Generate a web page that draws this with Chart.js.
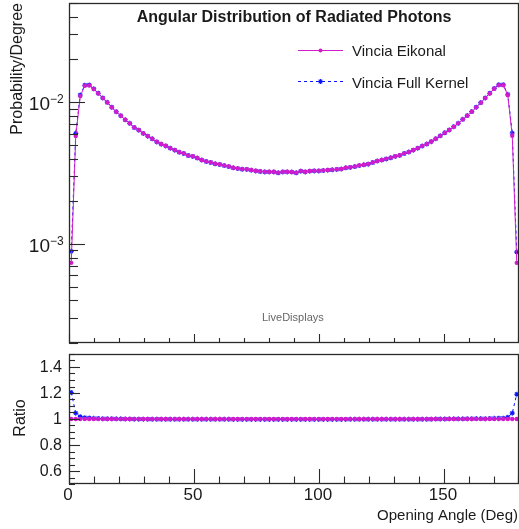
<!DOCTYPE html>
<html>
<head>
<meta charset="utf-8">
<script src="https://cdn.jsdelivr.net/npm/chart.js@4.4.1/dist/chart.umd.min.js"></script>
<style>
  html, body { margin: 0; padding: 0; background: #fff; }
  #wrap { position: relative; width: 519px; height: 529px; }
  canvas { position: absolute; left: 0; }
  #top { top: 0; }
  #ratio { top: 350px; }
</style>
</head>
<body>
<div id="wrap">
  <canvas id="top" width="519" height="350"></canvas>
  <canvas id="ratio" width="519" height="179"></canvas>
</div>
<script>
/* ── DATA ─────────────────────────────────────────────────── */
// 100 bins of 1.8 degrees between 0 and 180
const BIN_WIDTH = 1.8;

const eikonal = [
  0.000735, 0.00576, 0.01102, 0.01303, 0.01312, 0.01235, 0.01151, 0.01067, 0.00995, 0.00918,
  0.00855, 0.00801, 0.00750, 0.00708, 0.00663, 0.00635, 0.00602, 0.00576, 0.00552, 0.00525,
  0.00506, 0.00492, 0.00474, 0.00459, 0.00444, 0.00435, 0.00421, 0.00415, 0.00404, 0.00391,
  0.00382, 0.00376, 0.00368, 0.00364, 0.00358, 0.00352, 0.00345, 0.00341, 0.00337, 0.00336,
  0.00332, 0.00328, 0.00325, 0.00323, 0.00323, 0.00323, 0.00318, 0.00323, 0.00323, 0.00322,
  0.00318, 0.00327, 0.00323, 0.00327, 0.00328, 0.00328, 0.00330, 0.00332, 0.00334, 0.00336,
  0.00338, 0.00345, 0.00347, 0.00352, 0.00358, 0.00362, 0.00366, 0.00376, 0.00385, 0.00391,
  0.00398, 0.00406, 0.00415, 0.00422, 0.00435, 0.00445, 0.00459, 0.00474, 0.00491, 0.00507,
  0.00527, 0.00552, 0.00578, 0.00608, 0.00635, 0.00670, 0.00708, 0.00755, 0.00801, 0.00855,
  0.00918, 0.00989, 0.01067, 0.01151, 0.01241, 0.01317, 0.01317, 0.01120, 0.00579, 0.000735
];

const fullKernel = [
  0.000885, 0.00602, 0.01122, 0.01316, 0.01322, 0.01241, 0.01156, 0.01070, 0.00997, 0.00920,
  0.00856, 0.00802, 0.00750, 0.00708, 0.00662, 0.00634, 0.00601, 0.00575, 0.00551, 0.00524,
  0.00505, 0.00491, 0.00473, 0.00458, 0.00443, 0.00434, 0.00420, 0.00414, 0.00403, 0.00390,
  0.00381, 0.00375, 0.00367, 0.00363, 0.00357, 0.00351, 0.00344, 0.00340, 0.00336, 0.00335,
  0.00331, 0.00327, 0.00324, 0.00322, 0.00322, 0.00322, 0.00317, 0.00322, 0.00322, 0.00321,
  0.00317, 0.00326, 0.00322, 0.00326, 0.00327, 0.00327, 0.00329, 0.00331, 0.00333, 0.00335,
  0.00337, 0.00344, 0.00346, 0.00351, 0.00357, 0.00361, 0.00365, 0.00375, 0.00384, 0.00390,
  0.00397, 0.00405, 0.00414, 0.00421, 0.00434, 0.00444, 0.00458, 0.00473, 0.00490, 0.00506,
  0.00526, 0.00552, 0.00578, 0.00608, 0.00636, 0.00671, 0.00709, 0.00756, 0.00803, 0.00857,
  0.00921, 0.00992, 0.01070, 0.01156, 0.01247, 0.01325, 0.01325, 0.01135, 0.00605, 0.000875
];

const seriesLabels = ['Vincia Eikonal', 'Vincia Full Kernel'];
const xTickLabels = [0, 50, 100, 150];
const ratioTickLabels = [0.6, 0.8, 1, 1.2, 1.4];
const logTickLabels = [-3, -2];

/* ── STYLE ────────────────────────────────────────────────── */
const FONT = '"Liberation Sans", Arial, Helvetica, sans-serif';
const MAGENTA = '#d21ccc';
const BLUE = '#0a14ff';
const INK = '#1a1a1a';
const FRAME = '#2a2a2a';

const binCenters = eikonal.map((_, i) => (i + 0.5) * BIN_WIDTH);
const toXY = arr => arr.map((v, i) => ({ x: binCenters[i], y: v }));
const ratioEik = eikonal.map((v, i) => eikonal[i] / v);
const ratioFull = fullKernel.map((v, i) => v / eikonal[i]);

function datasetsFor(eikData, fullData) {
  return [
    {
      label: seriesLabels[0], data: eikData,
      borderColor: MAGENTA, backgroundColor: MAGENTA, borderWidth: 1,
      pointStyle: 'circle', pointRadius: 2.2, pointBorderWidth: 0,
      tension: 0, order: 0
    },
    {
      label: seriesLabels[1], data: fullData,
      borderColor: BLUE, backgroundColor: BLUE, borderWidth: 1, borderDash: [3, 3],
      pointStyle: 'star', pointRadius: 2.5, pointBorderWidth: 1.1,
      tension: 0, order: 1
    }
  ];
}

/* ── HELPERS ──────────────────────────────────────────────── */
function drawFrame(ctx, a) {
  ctx.save();
  ctx.strokeStyle = FRAME;
  ctx.lineWidth = 1.3;
  ctx.strokeRect(a.left + 0.5, a.top + 0.5, a.right - a.left - 1, a.bottom - a.top - 1);
  ctx.restore();
}

function tick(ctx, x1, y1, x2, y2) {
  ctx.beginPath();
  ctx.moveTo(x1, y1);
  ctx.lineTo(x2, y2);
  ctx.stroke();
}

function drawXTicks(chart, major, minor) {
  const ctx = chart.ctx, a = chart.chartArea, xs = chart.scales.x;
  ctx.save();
  ctx.strokeStyle = FRAME;
  ctx.lineWidth = 1.1;
  for (let k = 0; k <= 18; k++) {
    const px = Math.min(Math.round(xs.getPixelForValue(k * 10)) + 0.5, a.right - 0.5);
    const len = k % 5 === 0 ? major : minor;
    tick(ctx, px, a.bottom, px, a.bottom - len);
  }
  ctx.restore();
}

/* ── TOP PANEL DECORATION ─────────────────────────────────── */
const topDecor = {
  id: 'topDecor',
  afterDraw(chart) {
    const ctx = chart.ctx, a = chart.chartArea, ys = chart.scales.y;
    drawFrame(ctx, a);
    drawXTicks(chart, 9, 5);

    // log ticks on the left axis
    ctx.save();
    ctx.strokeStyle = FRAME;
    ctx.lineWidth = 1.1;
    for (let e = -4; e <= -2; e++) {
      for (let m = 1; m <= 9; m++) {
        const v = m * Math.pow(10, e);
        if (v < ys.min * 0.999 || v > ys.max * 1.001) continue;
        const py = Math.round(ys.getPixelForValue(v)) + 0.5;
        tick(ctx, a.left, py, a.left + (m === 1 ? 16 : 9), py);
      }
    }
    ctx.restore();

    // 10^n labels
    ctx.save();
    ctx.fillStyle = INK;
    logTickLabels.forEach(n => {
      const py = ys.getPixelForValue(Math.pow(10, n));
      ctx.font = '19px ' + FONT;
      ctx.textAlign = 'right';
      ctx.textBaseline = 'alphabetic';
      ctx.fillText('10', 50, py + 8);
      ctx.font = '12px ' + FONT;
      ctx.textAlign = 'left';
      ctx.fillText('\u2212' + Math.abs(n), 50, py + 1);
    });
    ctx.restore();

    // axis title
    ctx.save();
    ctx.fillStyle = INK;
    ctx.font = '16px ' + FONT;
    ctx.translate(22, 3);
    ctx.rotate(-Math.PI / 2);
    ctx.textAlign = 'right';
    ctx.textBaseline = 'alphabetic';
    ctx.fillText('Probability/Degree', 0, 0);
    ctx.restore();

    // title
    ctx.save();
    ctx.fillStyle = INK;
    ctx.font = 'bold 16px ' + FONT;
    ctx.textAlign = 'center';
    ctx.textBaseline = 'alphabetic';
    ctx.fillText('Angular Distribution of Radiated Photons', 294, 22);
    ctx.restore();

    // legend
    ctx.save();
    ctx.font = '15px ' + FONT;
    ctx.textBaseline = 'alphabetic';
    ctx.textAlign = 'left';
    ctx.strokeStyle = MAGENTA;
    ctx.lineWidth = 1;
    tick(ctx, 298, 50.5, 343, 50.5);
    ctx.fillStyle = MAGENTA;
    ctx.beginPath();
    ctx.arc(320.5, 50.5, 2, 0, Math.PI * 2);
    ctx.fill();
    ctx.strokeStyle = BLUE;
    ctx.setLineDash([3, 3]);
    tick(ctx, 298, 81.5, 343, 81.5);
    ctx.setLineDash([]);
    ctx.lineWidth = 1.1;
    for (let k = 0; k < 4; k++) {
      const ang = k * Math.PI / 4;
      tick(ctx, 320.5 - 2.5 * Math.cos(ang), 81.5 - 2.5 * Math.sin(ang),
                320.5 + 2.5 * Math.cos(ang), 81.5 + 2.5 * Math.sin(ang));
    }
    ctx.fillStyle = INK;
    ctx.fillText(seriesLabels[0], 352, 56);
    ctx.fillText(seriesLabels[1], 352, 88);
    ctx.restore();

    // watermark
    ctx.save();
    ctx.fillStyle = '#666';
    ctx.font = '11px ' + FONT;
    ctx.textAlign = 'left';
    ctx.fillText('LiveDisplays', 262, 321);
    ctx.restore();
  }
};

/* ── RATIO PANEL DECORATION ───────────────────────────────── */
const ratioDecor = {
  id: 'ratioDecor',
  afterDraw(chart) {
    const ctx = chart.ctx, a = chart.chartArea, xs = chart.scales.x, ys = chart.scales.y;
    drawFrame(ctx, a);
    drawXTicks(chart, 15, 7.5);

    ctx.save();
    ctx.strokeStyle = FRAME;
    ctx.lineWidth = 1.1;
    for (let k = 10; k <= 30; k++) {
      const py = Math.round(ys.getPixelForValue(k * 0.05)) + 0.5;
      tick(ctx, a.left, py, a.left + (k % 4 === 0 ? 11 : 6), py);
    }
    ctx.restore();

    ctx.save();
    ctx.fillStyle = INK;
    ctx.font = '16px ' + FONT;
    ctx.textAlign = 'right';
    ctx.textBaseline = 'middle';
    ratioTickLabels.forEach(v => {
      ctx.fillText(String(v), 62, ys.getPixelForValue(v) + 1);
    });

    ctx.font = '17px ' + FONT;
    ctx.textAlign = 'center';
    ctx.textBaseline = 'alphabetic';
    xTickLabels.forEach(v => {
      ctx.fillText(String(v), xs.getPixelForValue(v) - 1, 150);
    });

    ctx.font = '15px ' + FONT;
    ctx.textAlign = 'right';
    ctx.fillText('Opening Angle (Deg)', 518, 170);

    ctx.font = '16px ' + FONT;
    ctx.translate(25, 68);
    ctx.rotate(-Math.PI / 2);
    ctx.textAlign = 'center';
    ctx.fillText('Ratio', 0, 0);
    ctx.restore();
  }
};

/* ── CHARTS ───────────────────────────────────────────────── */
const baseOptions = (padding, y) => ({
  responsive: false,
  animation: false,
  devicePixelRatio: 1,
  layout: { padding, autoPadding: false },
  plugins: { legend: { display: false }, tooltip: { enabled: false } },
  scales: {
    x: { type: 'linear', min: 0, max: 180, display: false },
    y: Object.assign({ display: false }, y)
  }
});

new Chart(document.getElementById('top'), {
  type: 'line',
  data: { datasets: datasetsFor(toXY(eikonal), toXY(fullKernel)) },
  options: baseOptions({ left: 69, right: 0, top: 3, bottom: 7 },
    { type: 'logarithmic', min: 2e-4, max: 0.05 }),
  plugins: [topDecor]
});

new Chart(document.getElementById('ratio'), {
  type: 'line',
  data: { datasets: datasetsFor(toXY(ratioEik), toXY(ratioFull)) },
  options: baseOptions({ left: 69, right: 0, top: 4, bottom: 45 },
    { type: 'linear', min: 0.5, max: 1.5 }),
  plugins: [ratioDecor]
});
</script>
</body>
</html>
